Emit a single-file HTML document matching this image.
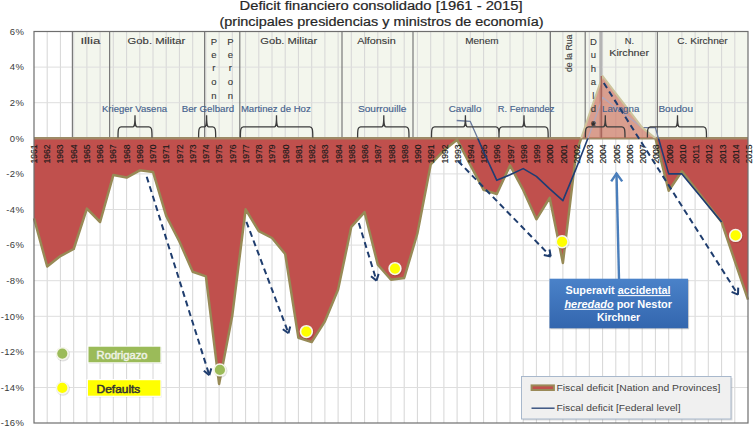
<!DOCTYPE html>
<html><head><meta charset="utf-8"><style>
html,body{margin:0;padding:0;background:#fff;}
svg{display:block;}
</style></head><body>
<svg width="754" height="427" viewBox="0 0 754 427">
<rect x="34.0" y="31.5" width="714.0" height="391.5" fill="#ffffff"/>
<rect x="72.4" y="31.5" width="675.6" height="106.80000000000001" fill="#f3f6ed"/>
<path d="M47.2 31.5V423.0M60.4 31.5V423.0M73.7 31.5V423.0M86.9 31.5V423.0M100.1 31.5V423.0M113.3 31.5V423.0M126.6 31.5V423.0M139.8 31.5V423.0M153 31.5V423.0M166.2 31.5V423.0M179.4 31.5V423.0M192.7 31.5V423.0M205.9 31.5V423.0M219.1 31.5V423.0M232.3 31.5V423.0M245.6 31.5V423.0M258.8 31.5V423.0M272 31.5V423.0M285.2 31.5V423.0M298.4 31.5V423.0M311.7 31.5V423.0M324.9 31.5V423.0M338.1 31.5V423.0M351.3 31.5V423.0M364.6 31.5V423.0M377.8 31.5V423.0M391 31.5V423.0M404.2 31.5V423.0M417.4 31.5V423.0M430.7 31.5V423.0M443.9 31.5V423.0M457.1 31.5V423.0M470.3 31.5V423.0M483.6 31.5V423.0M496.8 31.5V423.0M510 31.5V423.0M523.2 31.5V423.0M536.4 31.5V423.0M549.7 31.5V423.0M562.9 31.5V423.0M576.1 31.5V423.0M589.3 31.5V423.0M602.6 31.5V423.0M615.8 31.5V423.0M629 31.5V423.0M642.2 31.5V423.0M655.4 31.5V423.0M668.7 31.5V423.0M681.9 31.5V423.0M695.1 31.5V423.0M708.3 31.5V423.0M721.6 31.5V423.0M734.8 31.5V423.0" stroke="#d6d6d6" stroke-width="1" fill="none"/>
<path d="M34.0 67.1H748.0M34.0 102.7H748.0M34.0 138.3H748.0M34.0 173.9H748.0M34.0 209.5H748.0M34.0 245.1H748.0M34.0 280.7H748.0M34.0 316.3H748.0M34.0 351.9H748.0M34.0 387.5H748.0" stroke="#dedede" stroke-width="1" fill="none"/>
<path d="M72.4 31.5V138.3M109.6 31.5V138.3M204.6 31.5V138.3M239.8 31.5V138.3M342 31.5V138.3M413 31.5V138.3M550.4 31.5V138.3M585.2 31.5V138.3M657.4 31.5V138.3" stroke="#7a7a7a" stroke-width="1.2" fill="none"/>
<path d="M600.8 31.5V138.3" stroke="#b4b4b4" stroke-width="3" fill="none"/>
<clipPath id="neg"><rect x="0" y="138.3" width="754" height="400"/></clipPath>
<clipPath id="pos"><rect x="0" y="0" width="754" height="138.3"/></clipPath>
<clipPath id="pink"><rect x="575" y="0" width="67" height="138.3"/></clipPath>
<clipPath id="nopink"><rect x="0" y="138.3" width="754" height="300"/></clipPath>
<clipPath id="topnp"><rect x="0" y="0" width="575" height="138.3"/><rect x="642" y="0" width="120" height="138.3"/></clipPath>
<path d="M34 138.3L34 218.4L47.2 266.5L60.4 256.1L73.7 249L86.9 208.6L100.1 222L113.3 175.1L126.6 177.6L139.8 170.3L153 171.9L166.2 215.9L179.4 241.5L192.7 271.8L205.9 276.4L219.1 383.9L232.3 315.4L245.6 209.3L258.8 231.2L272 238L285.2 254L298.4 337.7L311.7 342.1L324.9 321.3L338.1 289.6L351.3 226.8L364.6 212.2L377.8 264.7L391 279.8L404.2 278L417.4 233.5L430.7 164.5L443.9 150.4L457.1 139.7L470.3 165L483.6 189.9L496.8 194L510 165.4L523.2 189.9L536.4 219.3L549.7 197.8L562.9 262.9L576.1 153.4L589.3 114.3L602.6 76L615.8 93.3L629 110.4L642.2 127.6L655.4 138.3L668.7 190.8L681.9 171.2L695.1 188.1L708.3 205.1L721.6 222L734.8 261.1L748 299.7L748 138.3Z" fill="#c0504d" clip-path="url(#neg)"/>
<path d="M34 218.4L47.2 266.5L60.4 256.1L73.7 249L86.9 208.6L100.1 222L113.3 175.1L126.6 177.6L139.8 170.3L153 171.9L166.2 215.9L179.4 241.5L192.7 271.8L205.9 276.4L219.1 383.9L232.3 315.4L245.6 209.3L258.8 231.2L272 238L285.2 254L298.4 337.7L311.7 342.1L324.9 321.3L338.1 289.6L351.3 226.8L364.6 212.2L377.8 264.7L391 279.8L404.2 278L417.4 233.5L430.7 164.5L443.9 150.4L457.1 139.7L470.3 165L483.6 189.9L496.8 194L510 165.4L523.2 189.9L536.4 219.3L549.7 197.8L562.9 262.9L576.1 153.4L589.3 114.3L602.6 76L615.8 93.3L629 110.4L642.2 127.6L655.4 138.3L668.7 190.8L681.9 171.2L695.1 188.1L708.3 205.1L721.6 222L734.8 261.1L748 299.7" stroke="#978a56" stroke-width="2.5" fill="none" stroke-linejoin="round" clip-path="url(#neg)"/>
<path d="M34.0 138.3H748.0" stroke="#9c8b66" stroke-width="2.4"/>
<g font-family='"Liberation Sans", sans-serif' font-size="8.6" fill="#1a1a1a" stroke="#1a1a1a" stroke-width="0.15"><text transform="translate(37.00,163.5) rotate(-90)" textLength="19" lengthAdjust="spacingAndGlyphs">1961</text><text transform="translate(50.24,163.5) rotate(-90)" textLength="19" lengthAdjust="spacingAndGlyphs">1962</text><text transform="translate(63.48,163.5) rotate(-90)" textLength="19" lengthAdjust="spacingAndGlyphs">1963</text><text transform="translate(76.73,163.5) rotate(-90)" textLength="19" lengthAdjust="spacingAndGlyphs">1964</text><text transform="translate(89.97,163.5) rotate(-90)" textLength="19" lengthAdjust="spacingAndGlyphs">1965</text><text transform="translate(103.21,163.5) rotate(-90)" textLength="19" lengthAdjust="spacingAndGlyphs">1966</text><text transform="translate(116.45,163.5) rotate(-90)" textLength="19" lengthAdjust="spacingAndGlyphs">1967</text><text transform="translate(129.70,163.5) rotate(-90)" textLength="19" lengthAdjust="spacingAndGlyphs">1968</text><text transform="translate(142.94,163.5) rotate(-90)" textLength="19" lengthAdjust="spacingAndGlyphs">1969</text><text transform="translate(156.18,163.5) rotate(-90)" textLength="19" lengthAdjust="spacingAndGlyphs">1970</text><text transform="translate(169.42,163.5) rotate(-90)" textLength="19" lengthAdjust="spacingAndGlyphs">1971</text><text transform="translate(182.66,163.5) rotate(-90)" textLength="19" lengthAdjust="spacingAndGlyphs">1972</text><text transform="translate(195.91,163.5) rotate(-90)" textLength="19" lengthAdjust="spacingAndGlyphs">1973</text><text transform="translate(209.15,163.5) rotate(-90)" textLength="19" lengthAdjust="spacingAndGlyphs">1974</text><text transform="translate(222.39,163.5) rotate(-90)" textLength="19" lengthAdjust="spacingAndGlyphs">1975</text><text transform="translate(235.63,163.5) rotate(-90)" textLength="19" lengthAdjust="spacingAndGlyphs">1976</text><text transform="translate(248.88,163.5) rotate(-90)" textLength="19" lengthAdjust="spacingAndGlyphs">1977</text><text transform="translate(262.12,163.5) rotate(-90)" textLength="19" lengthAdjust="spacingAndGlyphs">1978</text><text transform="translate(275.36,163.5) rotate(-90)" textLength="19" lengthAdjust="spacingAndGlyphs">1979</text><text transform="translate(288.60,163.5) rotate(-90)" textLength="19" lengthAdjust="spacingAndGlyphs">1980</text><text transform="translate(301.84,163.5) rotate(-90)" textLength="19" lengthAdjust="spacingAndGlyphs">1981</text><text transform="translate(315.09,163.5) rotate(-90)" textLength="19" lengthAdjust="spacingAndGlyphs">1982</text><text transform="translate(328.33,163.5) rotate(-90)" textLength="19" lengthAdjust="spacingAndGlyphs">1983</text><text transform="translate(341.57,163.5) rotate(-90)" textLength="19" lengthAdjust="spacingAndGlyphs">1984</text><text transform="translate(354.81,163.5) rotate(-90)" textLength="19" lengthAdjust="spacingAndGlyphs">1985</text><text transform="translate(368.06,163.5) rotate(-90)" textLength="19" lengthAdjust="spacingAndGlyphs">1986</text><text transform="translate(381.30,163.5) rotate(-90)" textLength="19" lengthAdjust="spacingAndGlyphs">1987</text><text transform="translate(394.54,163.5) rotate(-90)" textLength="19" lengthAdjust="spacingAndGlyphs">1988</text><text transform="translate(407.78,163.5) rotate(-90)" textLength="19" lengthAdjust="spacingAndGlyphs">1989</text><text transform="translate(421.02,163.5) rotate(-90)" textLength="19" lengthAdjust="spacingAndGlyphs">1990</text><text transform="translate(434.27,163.5) rotate(-90)" textLength="19" lengthAdjust="spacingAndGlyphs">1991</text><text transform="translate(447.51,163.5) rotate(-90)" textLength="19" lengthAdjust="spacingAndGlyphs">1992</text><text transform="translate(460.75,163.5) rotate(-90)" textLength="19" lengthAdjust="spacingAndGlyphs">1993</text><text transform="translate(473.99,163.5) rotate(-90)" textLength="19" lengthAdjust="spacingAndGlyphs">1994</text><text transform="translate(487.24,163.5) rotate(-90)" textLength="19" lengthAdjust="spacingAndGlyphs">1995</text><text transform="translate(500.48,163.5) rotate(-90)" textLength="19" lengthAdjust="spacingAndGlyphs">1996</text><text transform="translate(513.72,163.5) rotate(-90)" textLength="19" lengthAdjust="spacingAndGlyphs">1997</text><text transform="translate(526.96,163.5) rotate(-90)" textLength="19" lengthAdjust="spacingAndGlyphs">1998</text><text transform="translate(540.20,163.5) rotate(-90)" textLength="19" lengthAdjust="spacingAndGlyphs">1999</text><text transform="translate(553.45,163.5) rotate(-90)" textLength="19" lengthAdjust="spacingAndGlyphs">2000</text><text transform="translate(566.69,163.5) rotate(-90)" textLength="19" lengthAdjust="spacingAndGlyphs">2001</text><text transform="translate(579.93,163.5) rotate(-90)" textLength="19" lengthAdjust="spacingAndGlyphs">2002</text><text transform="translate(593.17,163.5) rotate(-90)" textLength="19" lengthAdjust="spacingAndGlyphs">2003</text><text transform="translate(606.42,163.5) rotate(-90)" textLength="19" lengthAdjust="spacingAndGlyphs">2004</text><text transform="translate(619.66,163.5) rotate(-90)" textLength="19" lengthAdjust="spacingAndGlyphs">2005</text><text transform="translate(632.90,163.5) rotate(-90)" textLength="19" lengthAdjust="spacingAndGlyphs">2006</text><text transform="translate(646.14,163.5) rotate(-90)" textLength="19" lengthAdjust="spacingAndGlyphs">2007</text><text transform="translate(659.38,163.5) rotate(-90)" textLength="19" lengthAdjust="spacingAndGlyphs">2008</text><text transform="translate(672.63,163.5) rotate(-90)" textLength="19" lengthAdjust="spacingAndGlyphs">2009</text><text transform="translate(685.87,163.5) rotate(-90)" textLength="19" lengthAdjust="spacingAndGlyphs">2010</text><text transform="translate(699.11,163.5) rotate(-90)" textLength="19" lengthAdjust="spacingAndGlyphs">2011</text><text transform="translate(712.35,163.5) rotate(-90)" textLength="19" lengthAdjust="spacingAndGlyphs">2012</text><text transform="translate(725.60,163.5) rotate(-90)" textLength="19" lengthAdjust="spacingAndGlyphs">2013</text><text transform="translate(738.84,163.5) rotate(-90)" textLength="19" lengthAdjust="spacingAndGlyphs">2014</text><text transform="translate(752.08,163.5) rotate(-90)" textLength="19" lengthAdjust="spacingAndGlyphs">2015</text></g>
<path d="M456.7 120.5L470.3 121.4L483.6 151.7L496.8 180.3L510 174.8L523.2 168.6L536.4 176.4L549.7 188.9L562.9 200.6L576.1 168.6L589.3 134.7L602.6 97.4L615.8 107.5L629 117.5L642.2 127.6L655.4 127.6L668.7 173.9L681.9 173.9L695.1 189.9L708.3 205.9L721.6 222" stroke="#1f3d73" stroke-width="1.6" fill="none" stroke-linejoin="round" clip-path="url(#nopink)"/>
<path d="M34 138.3L34 218.4L47.2 266.5L60.4 256.1L73.7 249L86.9 208.6L100.1 222L113.3 175.1L126.6 177.6L139.8 170.3L153 171.9L166.2 215.9L179.4 241.5L192.7 271.8L205.9 276.4L219.1 383.9L232.3 315.4L245.6 209.3L258.8 231.2L272 238L285.2 254L298.4 337.7L311.7 342.1L324.9 321.3L338.1 289.6L351.3 226.8L364.6 212.2L377.8 264.7L391 279.8L404.2 278L417.4 233.5L430.7 164.5L443.9 150.4L457.1 139.7L470.3 165L483.6 189.9L496.8 194L510 165.4L523.2 189.9L536.4 219.3L549.7 197.8L562.9 262.9L576.1 153.4L589.3 114.3L602.6 76L615.8 93.3L629 110.4L642.2 127.6L655.4 138.3L668.7 190.8L681.9 171.2L695.1 188.1L708.3 205.1L721.6 222L734.8 261.1L748 299.7L748 138.3Z" fill="#cf7c6a" fill-opacity="0.72" clip-path="url(#pos)"/>
<path d="M456.7 120.5L470.3 121.4L483.6 151.7L496.8 180.3L510 174.8L523.2 168.6L536.4 176.4L549.7 188.9L562.9 200.6L576.1 168.6L589.3 134.7L602.6 97.4L615.8 107.5L629 117.5L642.2 127.6L655.4 127.6L668.7 173.9L681.9 173.9L695.1 189.9L708.3 205.9L721.6 222" stroke="#b4a6b8" stroke-width="1.4" fill="none" stroke-linejoin="round" clip-path="url(#pink)"/>
<path d="M456.7 120.5L470.3 121.4L483.6 151.7L496.8 180.3L510 174.8L523.2 168.6L536.4 176.4L549.7 188.9L562.9 200.6L576.1 168.6L589.3 134.7L602.6 97.4L615.8 107.5L629 117.5L642.2 127.6L655.4 127.6L668.7 173.9L681.9 173.9L695.1 189.9L708.3 205.9L721.6 222" stroke="#6a7a9c" stroke-width="1.3" fill="none" stroke-linejoin="round" clip-path="url(#topnp)"/>
<path d="M34 218.4L47.2 266.5L60.4 256.1L73.7 249L86.9 208.6L100.1 222L113.3 175.1L126.6 177.6L139.8 170.3L153 171.9L166.2 215.9L179.4 241.5L192.7 271.8L205.9 276.4L219.1 383.9L232.3 315.4L245.6 209.3L258.8 231.2L272 238L285.2 254L298.4 337.7L311.7 342.1L324.9 321.3L338.1 289.6L351.3 226.8L364.6 212.2L377.8 264.7L391 279.8L404.2 278L417.4 233.5L430.7 164.5L443.9 150.4L457.1 139.7L470.3 165L483.6 189.9L496.8 194L510 165.4L523.2 189.9L536.4 219.3L549.7 197.8L562.9 262.9L576.1 153.4L589.3 114.3L602.6 76L615.8 93.3L629 110.4L642.2 127.6L655.4 138.3L668.7 190.8L681.9 171.2L695.1 188.1L708.3 205.1L721.6 222L734.8 261.1L748 299.7" stroke="#cdc49c" stroke-width="2" fill="none" stroke-linejoin="round" clip-path="url(#pos)"/>
<path d="M601.3 76V138.3" stroke="#a8665c" stroke-width="1.4" clip-path="url(#pink)"/>
<circle cx="593.4" cy="123.8" r="1.7" fill="#2a2a2a"/>
<rect x="34.0" y="31.5" width="714.0" height="391.5" fill="none" stroke="#6e6e6e" stroke-width="1.2"/>
<g font-family='"Liberation Sans", sans-serif' font-size="9.5" fill="#3a3a3a"><text x="24.3" y="34.7" text-anchor="end" letter-spacing="0.35">6%</text><text x="24.3" y="70.3" text-anchor="end" letter-spacing="0.35">4%</text><text x="24.3" y="105.9" text-anchor="end" letter-spacing="0.35">2%</text><text x="24.3" y="141.5" text-anchor="end" letter-spacing="0.35">0%</text><text x="24.3" y="177.1" text-anchor="end" letter-spacing="0.35">-2%</text><text x="24.3" y="212.7" text-anchor="end" letter-spacing="0.35">-4%</text><text x="24.3" y="248.3" text-anchor="end" letter-spacing="0.35">-6%</text><text x="24.3" y="283.9" text-anchor="end" letter-spacing="0.35">-8%</text><text x="24.3" y="319.5" text-anchor="end" letter-spacing="0.35">-10%</text><text x="24.3" y="355.1" text-anchor="end" letter-spacing="0.35">-12%</text><text x="24.3" y="390.7" text-anchor="end" letter-spacing="0.35">-14%</text><text x="24.3" y="426.3" text-anchor="end" letter-spacing="0.35">-16%</text></g>
<g font-family='"Liberation Sans", sans-serif' font-size="12.5" fill="#262626" stroke="#262626" stroke-width="0.2"><text x="239.6" y="10" textLength="283" lengthAdjust="spacingAndGlyphs">Deficit financiero consolidado [1961 - 2015]</text><text x="219.5" y="26.1" textLength="324" lengthAdjust="spacingAndGlyphs">(principales presidencias y ministros de economía)</text></g>
<g font-family='"Liberation Sans", sans-serif' font-size="9.5" fill="#383838" stroke="#383838" stroke-width="0.12"><text x="80.4" y="44.4" textLength="19.9" lengthAdjust="spacingAndGlyphs" >Illia</text><text x="127.6" y="44.4" textLength="57.6" lengthAdjust="spacingAndGlyphs" >Gob. Militar</text><text x="260.3" y="44.4" textLength="57" lengthAdjust="spacingAndGlyphs" >Gob. Militar</text><text x="357.2" y="44.4" textLength="38.5" lengthAdjust="spacingAndGlyphs" >Alfonsin</text><text x="465.2" y="44.4" textLength="33.4" lengthAdjust="spacingAndGlyphs" >Menem</text><text x="624.7" y="44.4" textLength="9.3" lengthAdjust="spacingAndGlyphs" >N.</text><text x="609.3" y="56.3" textLength="39.7" lengthAdjust="spacingAndGlyphs" >Kirchner</text><text x="677.3" y="44.4" textLength="50.4" lengthAdjust="spacingAndGlyphs" >C. Kirchner</text><text x="213.9" y="44.8" text-anchor="middle">P</text><text x="213.9" y="58.1" text-anchor="middle">e</text><text x="213.9" y="71.4" text-anchor="middle">r</text><text x="213.9" y="84.6" text-anchor="middle">o</text><text x="213.9" y="98.7" text-anchor="middle">n</text><text x="230.3" y="44.8" text-anchor="middle">P</text><text x="230.3" y="58.1" text-anchor="middle">e</text><text x="230.3" y="71.4" text-anchor="middle">r</text><text x="230.3" y="84.6" text-anchor="middle">o</text><text x="230.3" y="98.7" text-anchor="middle">n</text><text x="593.4" y="44.8" text-anchor="middle">D</text><text x="593.4" y="58.2" text-anchor="middle">u</text><text x="593.4" y="71.7" text-anchor="middle">h</text><text x="593.4" y="85.1" text-anchor="middle">a</text><text x="593.4" y="98.6" text-anchor="middle">l</text><text x="593.4" y="112" text-anchor="middle">d</text><text x="593.4" y="125.5" text-anchor="middle">e</text><text transform="translate(572,72) rotate(-90)" textLength="37.5" lengthAdjust="spacingAndGlyphs">de la Rua</text></g>
<g font-family='"Liberation Sans", sans-serif' font-size="9.2" fill="#46628e" stroke="#46628e" stroke-width="0.15"><text x="102" y="112" textLength="65" lengthAdjust="spacingAndGlyphs" >Krieger Vasena</text><text x="181.7" y="112" textLength="52.5" lengthAdjust="spacingAndGlyphs" >Ber Gelbard</text><text x="240.9" y="112" textLength="69.8" lengthAdjust="spacingAndGlyphs" >Martinez de Hoz</text><text x="358" y="112" textLength="48.3" lengthAdjust="spacingAndGlyphs" >Sourrouille</text><text x="448.8" y="112" textLength="32.6" lengthAdjust="spacingAndGlyphs" >Cavallo</text><text x="497.8" y="112" textLength="56.6" lengthAdjust="spacingAndGlyphs" >R. Fernandez</text><text x="602" y="112" textLength="37.3" lengthAdjust="spacingAndGlyphs" >Lavagna</text><text x="658.4" y="112" textLength="34.6" lengthAdjust="spacingAndGlyphs" >Boudou</text></g>
<path d="M118 137.4C118 128.8 118.5 126.8 121 126.8H133C134.5 126.8 135 124.8 135 115.3C135 124.8 135.5 126.8 137 126.8H149C151.5 126.8 152 128.8 152 137.4M198.6 137.4C198.6 128.8 199.1 126.8 201.6 126.8H204.6C206.1 126.8 206.6 124.8 206.6 115.3C206.6 124.8 207.1 126.8 208.6 126.8H212.7C215.2 126.8 215.7 128.8 215.7 137.4M240.4 137.4C240.4 128.8 240.9 126.8 243.4 126.8H274.5C276 126.8 276.5 124.8 276.5 115.3C276.5 124.8 277 126.8 278.5 126.8H309.8C312.3 126.8 312.8 128.8 312.8 137.4M357.6 137.4C357.6 128.8 358.1 126.8 360.6 126.8H381.8C383.3 126.8 383.8 124.8 383.8 115.3C383.8 124.8 384.3 126.8 385.8 126.8H406C408.5 126.8 409 128.8 409 137.4M431.5 137.4C431.5 128.8 432 126.8 434.5 126.8H463.4C464.9 126.8 465.4 124.8 465.4 115.3C465.4 124.8 465.9 126.8 467.4 126.8H496C498.5 126.8 499 128.8 499 137.4M499 137.4C499 128.8 499.5 126.8 502 126.8H522C523.5 126.8 524 124.8 524 115.3C524 124.8 524.5 126.8 526 126.8H545.2C547.7 126.8 548.2 128.8 548.2 137.4M585.4 137.4C585.4 128.8 585.9 126.8 588.4 126.8H603.3C604.8 126.8 605.3 124.8 605.3 115.3C605.3 124.8 605.8 126.8 607.3 126.8H622C624.5 126.8 625 128.8 625 137.4M647.4 137.4C647.4 128.8 647.9 126.8 650.4 126.8H675.5C677 126.8 677.5 124.8 677.5 115.3C677.5 124.8 678 126.8 679.5 126.8H703.5C706 126.8 706.5 128.8 706.5 137.4" stroke="#3c3c3c" stroke-width="1.3" fill="none"/>
<path d="M146.7 176.7L209.3 375.1M246.4 221.8L288.5 333.2M358.8 223L376.5 280.6M458 161L550.7 256.4M603.8 83L738 294.6" stroke="#1f3d6e" stroke-width="2" stroke-dasharray="6 4" fill="none"/>
<path d="M203.8 370.8L209.3 375.1M211.3 368.4L209.3 375.1M282.8 329.2L288.5 333.2M290.2 326.4L288.5 333.2M371 276.2L376.5 280.6M378.6 273.9L376.5 280.6M543.8 255L550.7 256.4M549.5 249.5L550.7 256.4M731.6 291.8L738 294.6M738.2 287.6L738 294.6" stroke="#1f3d6e" stroke-width="2" fill="none"/>
<circle cx="220.6" cy="370.79999999999995" r="6.9" fill="#000" opacity="0.12"/><circle cx="219.9" cy="369.9" r="5.9" fill="#9bbb59" stroke="#f6f6ea" stroke-width="1.6"/><circle cx="307.09999999999997" cy="332.5" r="6.9" fill="#000" opacity="0.12"/><circle cx="306.4" cy="331.6" r="5.9" fill="#ffff00" stroke="#f6f6ea" stroke-width="1.6"/><circle cx="395.7" cy="269.5" r="6.9" fill="#000" opacity="0.12"/><circle cx="395" cy="268.6" r="5.9" fill="#ffff00" stroke="#f6f6ea" stroke-width="1.6"/><circle cx="562.8000000000001" cy="242.70000000000002" r="6.9" fill="#000" opacity="0.12"/><circle cx="562.1" cy="241.8" r="5.9" fill="#ffff00" stroke="#f6f6ea" stroke-width="1.6"/><circle cx="736.3000000000001" cy="236.3" r="6.9" fill="#000" opacity="0.12"/><circle cx="735.6" cy="235.4" r="5.9" fill="#ffff00" stroke="#f6f6ea" stroke-width="1.6"/><circle cx="63.0" cy="354.5" r="6.9" fill="#000" opacity="0.12"/><circle cx="62.3" cy="353.6" r="5.9" fill="#9bbb59" stroke="#f6f6ea" stroke-width="1.6"/><circle cx="63.0" cy="388.79999999999995" r="6.9" fill="#000" opacity="0.12"/><circle cx="62.3" cy="387.9" r="5.9" fill="#ffff00" stroke="#f6f6ea" stroke-width="1.6"/>
<rect x="88.7" y="347.1" width="73.1" height="16.8" fill="#000" opacity="0.13"/>
<rect x="87.9" y="346.1" width="73.1" height="16.8" fill="#9bbb59" stroke="#fff" stroke-width="1.2"/>
<text x="96.6" y="358.8" font-family='"Liberation Sans", sans-serif' font-size="10" fill="#eef2e4" stroke="#eef2e4" stroke-width="0.45" textLength="51" lengthAdjust="spacingAndGlyphs">Rodrigazo</text>
<rect x="88.1" y="380.6" width="73.7" height="16.7" fill="#000" opacity="0.13"/>
<rect x="87.3" y="379.6" width="73.7" height="16.7" fill="#ffff00" stroke="#fff" stroke-width="1.2"/>
<text x="96.6" y="392.8" font-family='"Liberation Sans", sans-serif' font-size="10" fill="#333" stroke="#333" stroke-width="0.45" textLength="43.7" lengthAdjust="spacingAndGlyphs">Defaults</text>
<path d="M616.5 173L619 279" stroke="#4a7ebb" stroke-width="2.4"/>
<path d="M611.2 181.4L616.5 173.6L622.2 181.4" stroke="#4a7ebb" stroke-width="2.4" fill="none"/>
<defs><linearGradient id="bg" x1="0" y1="0" x2="0" y2="1"><stop offset="0" stop-color="#4a82c9"/><stop offset="1" stop-color="#3366ae"/></linearGradient></defs>
<rect x="550.5" y="279.7" width="138.6" height="49.6" fill="#7f7f7f" opacity="0.35"/>
<rect x="549.5" y="278.7" width="138.6" height="49.6" fill="url(#bg)"/>
<g font-family='"Liberation Sans", sans-serif' font-size="10.5" font-weight="bold" fill="#ffffff"><text x="565.5" y="294.1" textLength="105" lengthAdjust="spacingAndGlyphs">Superavit <tspan text-decoration="underline">accidental</tspan></text><text x="564.4" y="307.8" textLength="107.6" lengthAdjust="spacingAndGlyphs"><tspan font-style="italic" text-decoration="underline">heredado</tspan> por Nestor</text><text x="596.9" y="321.1" textLength="43.3" lengthAdjust="spacingAndGlyphs">Kirchner</text></g>
<rect x="523" y="378" width="209.5" height="42.5" fill="#8a8a8a" opacity="0.3"/>
<rect x="521.5" y="376.5" width="209.5" height="42.5" fill="#f0f0f0" stroke="#a8b8cc" stroke-width="1"/>
<rect x="531.6" y="385.4" width="22.3" height="4.6" fill="#c0504d" stroke="#9a8a58" stroke-width="2"/>
<path d="M531.5 408.2H554.6" stroke="#2f4a7a" stroke-width="1.4"/>
<g font-family='"Liberation Sans", sans-serif' font-size="8.3" fill="#444"><text x="556.5" y="390.6" textLength="163.9" lengthAdjust="spacingAndGlyphs">Fiscal deficit [Nation and Provinces]</text><text x="556.5" y="411.3" textLength="124" lengthAdjust="spacingAndGlyphs">Fiscal deficit [Federal level]</text></g>
</svg>
</body></html>
